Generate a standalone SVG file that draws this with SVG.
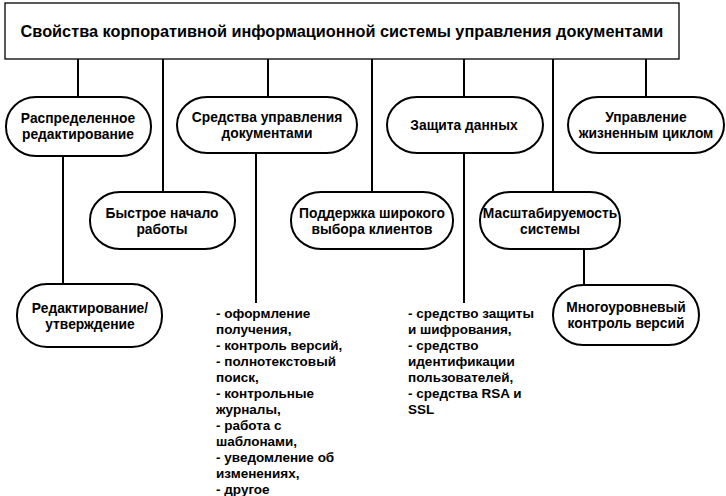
<svg xmlns="http://www.w3.org/2000/svg" width="726" height="496" viewBox="0 0 726 496">
<style>
.box{fill:#fff;stroke:#000;stroke-width:1.3}
.pill{fill:#fff;stroke:#000;stroke-width:2}
.con line{stroke:#000;stroke-width:2}
text{font-family:"Liberation Sans",Arial,sans-serif;font-weight:bold;fill:#000}
.t{font-size:16.3px;text-anchor:middle}
.n{font-size:13.8px;text-anchor:middle}
.l{font-size:13.5px}
</style>
<rect width="726" height="496" fill="#fff"/>
<g class="con">
<line x1="78" y1="59" x2="78" y2="97"/>
<line x1="163" y1="59" x2="163" y2="192"/>
<line x1="268" y1="59" x2="268" y2="97"/>
<line x1="372" y1="59" x2="372" y2="192"/>
<line x1="464" y1="59" x2="464" y2="97"/>
<line x1="553" y1="59" x2="553" y2="192"/>
<line x1="646" y1="59" x2="646" y2="97"/>
<line x1="63" y1="156" x2="63" y2="284"/>
<line x1="256" y1="153" x2="256" y2="303"/>
<line x1="464" y1="153" x2="464" y2="303"/>
<line x1="584" y1="249" x2="584" y2="285"/>
</g>
<g id="root">
<rect class="box" x="5" y="3" width="674" height="56"/>
<text class="t" x="342" y="37">Свойства корпоративной информационной системы управления документами</text>
</g>
<g id="n1">
<rect class="pill" x="6" y="97" width="145" height="59" rx="30" ry="29"/>
<text class="n" x="78" y="123">Распределенное</text>
<text class="n" x="78" y="139">редактирование</text>
</g>
<g id="n2">
<rect class="pill" x="90" y="192" width="145" height="57" rx="30" ry="28"/>
<text class="n" x="162" y="218">Быстрое начало</text>
<text class="n" x="162" y="234">работы</text>
</g>
<g id="n3">
<rect class="pill" x="177" y="97" width="180" height="56" rx="30" ry="28"/>
<text class="n" x="267" y="122">Средства управления</text>
<text class="n" x="267" y="138">документами</text>
</g>
<g id="n4">
<rect class="pill" x="291" y="192" width="162" height="57" rx="30" ry="28"/>
<text class="n" x="372" y="218">Поддержка широкого</text>
<text class="n" x="372" y="234">выбора клиентов</text>
</g>
<g id="n5">
<rect class="pill" x="387" y="97" width="156" height="56" rx="30" ry="28"/>
<text class="n" x="464" y="130">Защита данных</text>
</g>
<g id="n6">
<rect class="pill" x="480" y="192" width="140" height="57" rx="30" ry="28"/>
<text class="n" x="550" y="218">Масштабируемость</text>
<text class="n" x="550" y="234">системы</text>
</g>
<g id="n7">
<rect class="pill" x="568" y="97" width="156" height="56" rx="30" ry="28"/>
<text class="n" x="646" y="122">Управление</text>
<text class="n" x="646" y="138">жизненным циклом</text>
</g>
<g id="n8">
<rect class="pill" x="17" y="284" width="145" height="63" rx="30" ry="31"/>
<text class="n" x="90" y="313">Редактирование/</text>
<text class="n" x="90" y="329">утверждение</text>
</g>
<g id="n9">
<rect class="pill" x="553" y="285" width="146" height="60" rx="30" ry="30"/>
<text class="n" x="626" y="312">Многоуровневый</text>
<text class="n" x="626" y="328">контроль версий</text>
</g>
<g id="list1">
<text class="l" x="216" y="318">- оформление</text>
<text class="l" x="216" y="334">получения,</text>
<text class="l" x="216" y="350">- контроль версий,</text>
<text class="l" x="216" y="366">- полнотекстовый</text>
<text class="l" x="216" y="382">поиск,</text>
<text class="l" x="216" y="398">- контрольные</text>
<text class="l" x="216" y="414">журналы,</text>
<text class="l" x="216" y="430">- работа с</text>
<text class="l" x="216" y="446">шаблонами,</text>
<text class="l" x="216" y="462">- уведомление об</text>
<text class="l" x="216" y="478">изменениях,</text>
<text class="l" x="216" y="494">- другое</text>
</g>
<g id="list2">
<text class="l" x="408" y="318">- средство защиты</text>
<text class="l" x="408" y="334">и шифрования,</text>
<text class="l" x="408" y="350">- средство</text>
<text class="l" x="408" y="366">идентификации</text>
<text class="l" x="408" y="382">пользователей,</text>
<text class="l" x="408" y="398">- средства RSA и</text>
<text class="l" x="408" y="414">SSL</text>
</g>
</svg>
